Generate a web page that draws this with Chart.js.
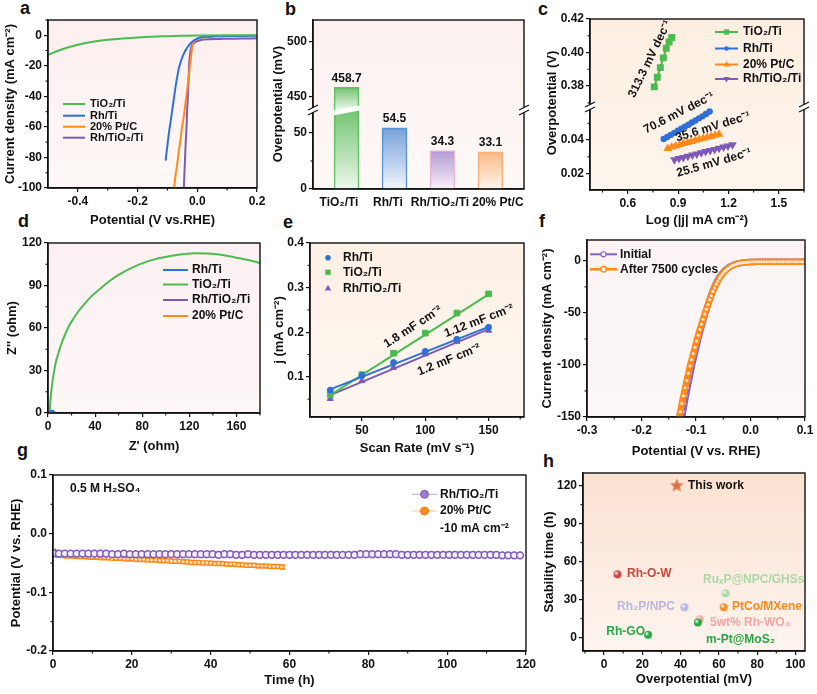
<!DOCTYPE html>
<html>
<head>
<meta charset="utf-8">
<title>HER performance</title>
<script src="https://cdn.jsdelivr.net/npm/chart.js@4.4.1/dist/chart.umd.min.js"></script>
<style>
  html, body { margin: 0; padding: 0; background: #fff; }
  #page { position: relative; width: 817px; height: 694px; overflow: hidden; background: #fff; }
  #page canvas { position: absolute; }
  .tag { position: absolute; font: bold 18px 'Liberation Sans', Arial, sans-serif; line-height: 18px; color: #111; }
</style>
</head>
<body>
<div id="page">
  <div class="tag" style="left:20px;top:-1px">a</div>
  <div class="tag" style="left:285px;top:0px">b</div>
  <div class="tag" style="left:538px;top:0px">c</div>
  <div class="tag" style="left:18px;top:212px">d</div>
  <div class="tag" style="left:283px;top:213px">e</div>
  <div class="tag" style="left:539px;top:212px">f</div>
  <div class="tag" style="left:17px;top:441px">g</div>
  <div class="tag" style="left:543px;top:452px">h</div>
</div>
<script>
// ---- a: LSV curves ----
var aTiO2V = [-0.5, -0.45, -0.4, -0.35, -0.3, -0.25, -0.2, -0.15, -0.1, -0.05, 0, 0.1, 0.2];
var aTiO2J = [-12.8, -9.0, -6.2, -4.3, -3.0, -2.1, -1.4, -0.9, -0.6, -0.35, -0.15, 0, 0];
var aRhV = [-0.106, -0.100, -0.095, -0.089, -0.084, -0.078, -0.073, -0.067, -0.061, -0.053, -0.045, -0.036, -0.028, -0.019, -0.011, 0.000, 0.011, 0.030, 0.060, 0.100, 0.150, 0.200];
var aRhJ = [-82, -72, -64, -56, -49, -41, -34, -27, -21, -16, -12, -8.8, -6.5, -4.6, -3.3, -2.2, -1.5, -1.0, -0.7, -0.5, -0.4, -0.3];
var aPtV = [-0.078, -0.073, -0.067, -0.062, -0.056, -0.051, -0.045, -0.040, -0.034, -0.028, -0.022, -0.017, -0.012, -0.006, 0.000, 0.011, 0.030, 0.060, 0.100, 0.150, 0.200];
var aPtJ = [-100, -92, -84, -76, -68, -60, -53, -45, -36, -26, -16, -7.6, -4.6, -3.3, -2.4, -1.5, -1.0, -0.7, -0.5, -0.4, -0.3];
var aRhTiO2V = [-0.045, -0.043, -0.041, -0.039, -0.036, -0.034, -0.031, -0.029, -0.027, -0.024, -0.020, -0.015, -0.010, -0.006, 0.000, 0.010, 0.022, 0.040, 0.078, 0.120, 0.160, 0.200];
var aRhTiO2J = [-100, -90, -81, -71, -60, -49, -38, -28, -18.5, -12, -7.6, -5.8, -5.0, -4.3, -3.8, -3.2, -2.8, -2.6, -2.4, -2.2, -2.1, -2.0];

// ---- b: overpotential at 10 mA cm-2 ----
var bNames = ['TiO₂/Ti', 'Rh/Ti', 'Rh/TiO₂/Ti', '20% Pt/C'];
var bEta = [458.7, 54.5, 34.3, 33.1];

// ---- c: Tafel ----
var cTiO2X = [0.758, 0.776, 0.794, 0.812, 0.829, 0.846, 0.862];
var cTiO2Y = [0.3795, 0.3852, 0.3910, 0.3968, 0.4025, 0.4063, 0.4090];
var cRhX = [0.814, 0.835, 0.856, 0.877, 0.898, 0.919, 0.940, 0.961, 0.982, 1.003, 1.024, 1.045, 1.066, 1.088];
var cRhY = [0.0406, 0.0418, 0.0431, 0.0443, 0.0456, 0.0468, 0.0480, 0.0492, 0.0505, 0.0517, 0.0530, 0.0542, 0.0556, 0.0571];
var cPtX = [0.838, 0.862, 0.885, 0.909, 0.932, 0.956, 0.979, 1.003, 1.026, 1.050, 1.073, 1.097, 1.120, 1.144];
var cPtY = [0.0350, 0.0358, 0.0365, 0.0372, 0.0379, 0.0386, 0.0392, 0.0399, 0.0405, 0.0411, 0.0417, 0.0423, 0.0429, 0.0435];
var cRhTiO2X = [0.878, 0.905, 0.931, 0.958, 0.985, 1.011, 1.038, 1.064, 1.091, 1.118, 1.144, 1.171, 1.197, 1.224];
var cRhTiO2Y = [0.0282, 0.0289, 0.0296, 0.0303, 0.0310, 0.0317, 0.0324, 0.0331, 0.0337, 0.0344, 0.0351, 0.0358, 0.0365, 0.0372];

// ---- d: Nyquist ----
var dTiO2X = [1.4, 1.8, 2.4, 3.2, 4.2, 5.5, 7.0, 8.8, 11.0, 14.0, 17.5, 21.5, 26, 31, 37, 44, 52, 61, 71, 81, 92, 103, 114, 125, 136, 147, 158, 168, 176, 180];
var dTiO2Y = [0, 6, 12, 18, 24.5, 31, 37, 42, 48, 54.5, 61, 66.5, 72, 77, 82.5, 87.5, 93, 98, 102.5, 106, 108.8, 110.6, 112, 112.8, 112.6, 111.7, 110, 108.3, 106.7, 105.8];
var dRhX = [1.2, 1.6, 2.2, 3.0, 3.8, 4.6, 5.3, 5.8, 6.0];
var dRhY = [0, 0.8, 1.3, 1.6, 1.6, 1.3, 0.8, 0.3, 0];
var dRhTiO2X = [1.0, 1.3, 1.8, 2.4, 2.9, 3.2];
var dRhTiO2Y = [0, 0.5, 0.8, 0.8, 0.4, 0];
var dPtX = [0.9, 1.2, 1.6, 2.1, 2.5, 2.7];
var dPtY = [0, 0.4, 0.6, 0.6, 0.3, 0];

// ---- e: double-layer capacitance ----
var eRate = [25, 50, 75, 100, 125, 150];
var eRhTi = [0.070, 0.103, 0.132, 0.157, 0.184, 0.211];
var eTiO2 = [0.060, 0.105, 0.153, 0.198, 0.243, 0.286];
var eRhTiO2 = [0.051, 0.091, 0.121, 0.151, 0.179, 0.204];
var eFitRate = [25, 150];
var eFitRhTi = [0.072, 0.212];
var eFitTiO2 = [0.059, 0.285];
var eFitRhTiO2 = [0.059, 0.207];

// ---- f: cycling stability ----
var fAfterV = [-0.132, -0.129, -0.126, -0.123, -0.120, -0.117, -0.114, -0.111, -0.108, -0.105,
  -0.102, -0.099, -0.096, -0.093, -0.090, -0.087, -0.084, -0.081, -0.078, -0.075,
  -0.072, -0.069, -0.066, -0.063, -0.060, -0.057, -0.054, -0.051, -0.048, -0.045,
  -0.042, -0.039, -0.036, -0.033, -0.030, -0.027, -0.024, -0.021, -0.018, -0.015,
  -0.012, -0.009, -0.006, -0.003, 0.000,
  0.005, 0.010, 0.015, 0.020, 0.025, 0.030, 0.035, 0.040, 0.045, 0.050,
  0.055, 0.060, 0.065, 0.070, 0.075, 0.080, 0.085, 0.090, 0.095, 0.100];
var fAfterJ = [-153, -145, -137, -129.5, -122, -115, -108, -101, -95, -89,
  -83, -77, -71.5, -66, -61, -56, -51, -46.5, -42, -37.5,
  -33.5, -29.5, -26, -22.5, -19.5, -16.8, -14.5, -12.5, -10.6, -9,
  -7.6, -6.4, -5.4, -4.6, -3.9, -3.3, -2.8, -2.4, -2.1, -1.8,
  -1.6, -1.4, -1.3, -1.2, -1.1,
  -1.0, -0.95, -0.9, -0.9, -0.85, -0.85, -0.8, -0.8, -0.8, -0.8,
  -0.8, -0.8, -0.8, -0.8, -0.8, -0.8, -0.8, -0.8, -0.8, -0.8];
var fInitV = [-0.1265, -0.1238, -0.1211, -0.1184, -0.1157, -0.1130, -0.1103, -0.1076, -0.1049, -0.1022,
  -0.0995, -0.0968, -0.0941, -0.0914, -0.0887, -0.0860, -0.0833, -0.0806, -0.0779, -0.0752,
  -0.0725, -0.0698, -0.0670, -0.0642, -0.0613, -0.0584, -0.0555, -0.0525, -0.0495, -0.0465,
  -0.0434, -0.0403, -0.0372, -0.0341, -0.0310, -0.0279, -0.0248, -0.0217, -0.0186, -0.0156,
  -0.0126, -0.0095, -0.0065, -0.0034, -0.0003,
  0.005, 0.010, 0.015, 0.020, 0.025, 0.030, 0.035, 0.040, 0.045, 0.050,
  0.055, 0.060, 0.065, 0.070, 0.075, 0.080, 0.085, 0.090, 0.095, 0.100];
var fInitJ = [-153, -145, -137, -129.5, -122, -115, -108, -101, -95, -89,
  -83, -77, -71.5, -66, -61, -56, -51, -46.5, -42, -37.5,
  -33.5, -29.5, -26, -22.5, -19.5, -16.8, -14.5, -12.5, -10.6, -9,
  -7.6, -6.4, -5.4, -4.6, -3.9, -3.3, -2.8, -2.4, -2.1, -1.8,
  -1.6, -1.4, -1.3, -1.2, -1.1,
  -1.05, -1.0, -0.95, -0.9, -0.9, -0.85, -0.85, -0.85, -0.85, -0.85,
  -0.85, -0.85, -0.85, -0.85, -0.85, -0.85, -0.85, -0.85, -0.85, -0.85];

// ---- g: chronopotentiometry at -10 mA cm-2 ----
var gRhT = [0, 1.5, 3, 4.5, 6, 7.5, 9, 10.5, 12, 13.5,
  15, 16.5, 18, 19.5, 21, 22.5, 24, 25.5, 27, 28.5,
  30, 31.5, 33, 34.5, 36, 37.5, 39, 40.5, 42, 43.5,
  45, 46.5, 48, 49.5, 51, 52.5, 54, 55.5, 57, 58.5,
  60, 61.5, 63, 64.5, 66, 67.5, 69, 70.5, 72, 73.5,
  75, 76.5, 78, 79.5, 81, 82.5, 84, 85.5, 87, 88.5,
  90, 91.5, 93, 94.5, 96, 97.5, 99, 100.5, 102, 103.5,
  105, 106.5, 108, 109.5, 111, 112.5, 114, 115.5, 117, 118.5];
var gRhE = [-0.033, -0.034, -0.034, -0.034, -0.034, -0.034, -0.034, -0.034, -0.034, -0.034,
  -0.035, -0.035, -0.034, -0.035, -0.035, -0.035, -0.035, -0.035, -0.035, -0.035,
  -0.035, -0.035, -0.035, -0.035, -0.035, -0.035, -0.035, -0.035, -0.036, -0.035,
  -0.035, -0.036, -0.036, -0.035, -0.036, -0.036, -0.036, -0.036, -0.036, -0.036,
  -0.036, -0.036, -0.036, -0.036, -0.036, -0.036, -0.036, -0.036, -0.036, -0.036,
  -0.036, -0.036, -0.035, -0.035, -0.035, -0.035, -0.035, -0.035, -0.035, -0.036,
  -0.036, -0.036, -0.036, -0.036, -0.036, -0.036, -0.036, -0.036, -0.036, -0.036,
  -0.036, -0.036, -0.036, -0.036, -0.036, -0.036, -0.037, -0.037, -0.037, -0.037];
var gPtT = [0.1, 1, 2, 3, 4, 5, 6, 7, 8, 9, 10, 11, 12, 13, 14, 15, 16, 17, 18, 19,
  20, 21, 22, 23, 24, 25, 26, 27, 28, 29, 30, 31, 32, 33, 34, 35, 36, 37, 38, 39,
  40, 41, 42, 43, 44, 45, 46, 47, 48, 49, 50, 51, 52, 53, 54, 55, 56, 57, 58, 59];
var gPtE = [-0.027, -0.037, -0.037, -0.038, -0.038, -0.038, -0.039, -0.039, -0.039, -0.040,
  -0.040, -0.040, -0.041, -0.041, -0.041, -0.042, -0.042, -0.042, -0.043, -0.043,
  -0.043, -0.044, -0.044, -0.044, -0.045, -0.045, -0.045, -0.046, -0.046, -0.046,
  -0.047, -0.047, -0.047, -0.048, -0.048, -0.049, -0.049, -0.049, -0.050, -0.050,
  -0.050, -0.051, -0.051, -0.051, -0.052, -0.052, -0.052, -0.053, -0.053, -0.054,
  -0.054, -0.054, -0.055, -0.055, -0.055, -0.056, -0.056, -0.056, -0.057, -0.057];

// ---- h: comparison ----
var hNames = ['This work', 'Rh-O-W', 'RuₓP@NPC/GHSs', 'Rh₂P/NPC', 'PtCo/MXene', '5wt% Rh-WO₃', 'm-Pt@MoS₂', 'Rh-GO'];
var hEta = [38, 7, 63.5, 42, 62.5, 50, 49, 23];
var hTime = [120, 50, 35, 24, 24, 14.5, 12, 2.3];
var hColors = ['#dc7649', '#c8453c', '#a9d8a2', '#b7b8dc', '#f58b22', '#f2a4a6', '#27a744', '#27a744'];

var FONT = "'Liberation Sans', Arial, Helvetica, sans-serif";
var GREEN = '#4cbb4f', BLUE = '#2f70d8', ORANGE = '#ff8a1a', PURPLE = '#7d5ab6';
var page = document.getElementById('page');

Chart.defaults.font.family = FONT;
Chart.defaults.font.weight = 'bold';
Chart.defaults.font.size = 12;
Chart.defaults.color = '#111';
Chart.defaults.animation = false;
Chart.defaults.responsive = false;
Chart.defaults.plugins.legend.display = false;
Chart.defaults.plugins.tooltip.enabled = false;

function pts(xs, ys) {
  return xs.map(function (x, i) { return { x: x, y: ys[i] }; });
}

function text(c, t, x, y, size, color, align, rot) {
  c.save();
  c.translate(x, y);
  if (rot) c.rotate(rot * Math.PI / 180);
  c.font = 'bold ' + size + 'px ' + FONT;
  c.fillStyle = color;
  c.textAlign = align;
  c.textBaseline = 'middle';
  c.fillText(t, 0, 0);
  c.restore();
}

function mark(c, st, x, y, r, fill, stroke, lw) {
  c.beginPath();
  if (st === 'rect') { var s = r * 0.75; c.rect(x - s, y - s, 2 * s, 2 * s); }
  else if (st === 'triangle') { c.moveTo(x, y - r); c.lineTo(x + r * 0.9, y + r * 0.6); c.lineTo(x - r * 0.9, y + r * 0.6); c.closePath(); }
  else if (st === 'tridown') { c.moveTo(x, y + r); c.lineTo(x + r * 0.9, y - r * 0.6); c.lineTo(x - r * 0.9, y - r * 0.6); c.closePath(); }
  else c.arc(x, y, r, 0, Math.PI * 2);
  if (fill) { c.fillStyle = fill; c.fill(); }
  if (stroke) { c.strokeStyle = stroke; c.lineWidth = lw || 1; c.stroke(); }
}

// plot frame, background, minor ticks, axis breaks, notes and legends
var decor = {
  id: 'decor',
  beforeDraw: function (chart, args, o) {
    if (!o.bg) return;
    var a = chart.chartArea, c = chart.ctx;
    var g = c.createLinearGradient(0, a.top, 0, a.bottom);
    g.addColorStop(0, o.bg[0]);
    g.addColorStop(1, o.bg[1]);
    c.save();
    c.fillStyle = g;
    c.fillRect(a.left, a.top, a.right - a.left, a.bottom - a.top);
    c.restore();
  },
  afterDatasetsDraw: function (chart, args, o) {
    var a = chart.chartArea, c = chart.ctx, ds = chart.data.datasets;
    c.save();
    c.strokeStyle = '#111';
    c.lineWidth = 1.4;
    c.strokeRect(a.left, a.top, a.right - a.left, a.bottom - a.top);

    c.lineWidth = 1.1;
    (o.minor || []).forEach(function (id) {
      var s = chart.scales[id], t = s.ticks;
      if (t.length < 2) return;
      var st = t[1].value - t[0].value;
      var vals = [t[0].value - st / 2];
      t.forEach(function (k) { vals.push(k.value + st / 2); });
      vals.forEach(function (v) {
        if (v < s.min || v > s.max) return;
        var p = s.getPixelForValue(v);
        c.beginPath();
        if (s.isHorizontal()) { c.moveTo(p, a.bottom); c.lineTo(p, a.bottom + 2.5); }
        else { c.moveTo(a.left, p); c.lineTo(a.left - 2.5, p); }
        c.stroke();
      });
    });

    if (o.brk) {
      var y = Math.max(chart.scales[o.brk[0]].top, chart.scales[o.brk[1]].top);
      c.fillStyle = '#fff';
      if (o.brkBars !== undefined) {
        chart.getDatasetMeta(o.brkBars).data.forEach(function (el, i) {
          if (ds[o.brkBars].data[i].y === null) return;
          c.beginPath();
          c.moveTo(el.x - el.width / 2 - 1, y + 0.5);
          c.lineTo(el.x + el.width / 2 + 1, y - 4.5);
          c.lineTo(el.x + el.width / 2 + 1, y + 0.5);
          c.lineTo(el.x - el.width / 2 - 1, y + 5.5);
          c.closePath();
          c.fill();
        });
      }
      c.fillRect(a.left - 6, y - 2.5, 12, 5);
      c.fillRect(a.right - 6, y - 2.5, 12, 5);
      c.lineWidth = 1.2;
      [a.left, a.right].forEach(function (x) {
        [-2.5, 2.5].forEach(function (d) {
          c.beginPath();
          c.moveTo(x - 5, y + d + 2.5);
          c.lineTo(x + 5, y + d - 2.5);
          c.stroke();
        });
      });
    }

    if (o.barLabels) {
      var bl = o.barLabels;
      bl.values.forEach(function (v, i) {
        var useHigh = ds[bl.high].data[i].y !== null;
        var el = chart.getDatasetMeta(useHigh ? bl.high : bl.low).data[i];
        text(c, v.toFixed(1), el.x, el.y - 9, 12, '#111', 'center', 0);
      });
    }

    if (o.xlabels) {
      var xl = o.xlabels, sx = chart.scales.x;
      xl.labels.forEach(function (t, i) {
        text(c, t, sx.getPixelForValue(i) + xl.dx[i], a.bottom + xl.gap, 12, '#111', 'center', 0);
      });
    }

    c.translate(-o.ox, -o.oy);
    (o.notes || []).forEach(function (n) {
      text(c, n.t, n.x, n.y, n.size || 12, n.color || '#111', n.align || 'center', n.rot || 0);
    });

    if (o.legend) {
      var L = o.legend;
      L.items.forEach(function (it, k) {
        var yy = L.ys[k], d = ds[it.ds];
        if (it.line) {
          c.strokeStyle = it.lc || d.borderColor;
          c.lineWidth = it.lw || 2;
          c.beginPath(); c.moveTo(L.x0, yy); c.lineTo(L.x1, yy); c.stroke();
        }
        if (it.mk) mark(c, it.mk, (L.x0 + L.x1) / 2, yy, it.r || 3, it.fill, it.stroke, it.mlw);
        text(c, d.label, L.tx, yy, L.size || 12, '#111', 'left', 0);
      });
    }
    c.restore();
  }
};
Chart.register(decor);

function ax(pos, min, max, step, dec, title) {
  return {
    type: 'linear', position: pos, min: min, max: max, offset: false,
    border: { display: true, color: '#111', width: 1.4 },
    grid: { drawOnChartArea: false, drawTicks: true, tickLength: 4, color: '#111', lineWidth: 1.2 },
    ticks: {
      stepSize: step, includeBounds: false, padding: 2, autoSkip: false, maxRotation: 0,
      font: { size: 12, weight: 'bold' }, color: '#111',
      callback: function (v) { return (Math.round(v * 1e6) / 1e6).toFixed(dec); }
    },
    title: { display: !!title, text: title || '', font: { size: 13, weight: 'bold' }, color: '#111', padding: 0 }
  };
}

function stacked(s, weight) {
  s.stack = 'y';
  s.stackWeight = weight;
  return s;
}

// box: plot area L,T,R,B in page pixels; tx = centre of y title, ty = centre of x title
function makeChart(box, cfg) {
  var yW = Math.round(box.L - box.tx + 7.8);
  var xH = Math.round(box.ty - box.B + 7.8);
  var cl = box.L - yW, ct = box.T - 14;
  var W = box.R + 12 - cl, H = box.B + xH - ct;
  var cv = document.createElement('canvas');
  cv.width = W; cv.height = H;
  cv.style.left = cl + 'px'; cv.style.top = ct + 'px';
  cv.style.width = W + 'px'; cv.style.height = H + 'px';
  page.appendChild(cv);
  var sc = cfg.options.scales;
  Object.keys(sc).forEach(function (k) {
    var horiz = sc[k].position === 'bottom';
    sc[k].afterFit = function (s) { if (horiz) s.height = xH; else s.width = yW; };
  });
  cfg.options.layout = { padding: { left: 0, top: 14, right: 12, bottom: 0 } };
  cfg.options.plugins.decor.ox = cl;
  cfg.options.plugins.decor.oy = ct;
  return new Chart(cv, cfg);
}

function curve(label, data, col, extra) {
  var d = { label: label, data: data, showLine: true, borderColor: col, borderWidth: 2, pointRadius: 0, cubicInterpolationMode: 'monotone' };
  for (var k in (extra || {})) d[k] = extra[k];
  return d;
}

function sphere(col, r) {
  var cv = document.createElement('canvas');
  cv.width = cv.height = 2 * r + 2;
  var c = cv.getContext('2d');
  var g = c.createRadialGradient(r + 1 - r * 0.4, r + 1 - r * 0.4, r * 0.1, r + 1, r + 1, r);
  g.addColorStop(0, '#ffffff');
  g.addColorStop(0.5, col);
  g.addColorStop(1, col);
  c.fillStyle = g;
  c.beginPath(); c.arc(r + 1, r + 1, r, 0, Math.PI * 2); c.fill();
  return cv;
}

function star(col, r) {
  var cv = document.createElement('canvas');
  cv.width = cv.height = 2 * r + 2;
  var c = cv.getContext('2d');
  c.beginPath();
  for (var i = 0; i < 10; i++) {
    var rr = i % 2 ? r * 0.45 : r, an = -Math.PI / 2 + i * Math.PI / 5;
    c.lineTo(r + 1 + rr * Math.cos(an), r + 1 + rr * Math.sin(an));
  }
  c.closePath();
  c.fillStyle = col; c.fill();
  return cv;
}

// ---------- a ----------
makeChart({ L: 48, T: 20, R: 257, B: 188, tx: 11, ty: 220 }, {
  type: 'scatter',
  data: { datasets: [
    curve('TiO₂/Ti', pts(aTiO2V, aTiO2J), GREEN),
    curve('Rh/Ti', pts(aRhV, aRhJ), BLUE),
    curve('20% Pt/C', pts(aPtV, aPtJ), ORANGE),
    curve('Rh/TiO₂/Ti', pts(aRhTiO2V, aRhTiO2J), PURPLE)
  ] },
  options: {
    scales: {
      x: ax('bottom', -0.5, 0.2, 0.2, 1, 'Potential (V vs.RHE)'),
      y: ax('left', -100, 10, 20, 0, 'Current density (mA cm⁻²)')
    },
    plugins: { decor: {
      bg: ['#fcefef', '#fdf8f6'], minor: ['x', 'y'],
      legend: { x0: 63, x1: 85, tx: 90, ys: [104, 115.7, 126.7, 137.7], size: 11,
        items: [{ ds: 0, line: true }, { ds: 1, line: true }, { ds: 2, line: true }, { ds: 3, line: true }] }
    } }
  }
});

// ---------- b ----------
var bLowMax = 70.5, bHighMin = 438;
var bPos = bNames.map(function (n, i) { return i; });
var bTop = ['rgba(92,188,92,0.85)', 'rgba(98,148,214,0.85)', 'rgba(158,128,204,0.75)', 'rgba(248,172,110,0.8)'];
var bBot = ['rgba(236,248,236,0.9)', 'rgba(240,245,252,0.9)', 'rgba(252,241,248,0.9)', 'rgba(254,245,237,0.9)'];
var bEdge = ['#63c163', '#5d95dc', '#eab6d4', '#f6b27c'];
function barFill(ctx) {
  var ch = ctx.chart, i = ctx.dataIndex;
  if (ctx.type !== 'data' || !ch.chartArea || !ctx.parsed || ctx.parsed.y === null) return bTop[i];
  var ys = ch.scales[ctx.dataset.yAxisID];
  var top = ys.getPixelForValue(ctx.parsed.y), bot = ys.getPixelForValue(ys.min);
  var g = ch.ctx.createLinearGradient(0, top, 0, bot);
  g.addColorStop(0, bTop[i]);
  g.addColorStop(1, bBot[i]);
  return g;
}
var bx = ax('bottom', -0.70, 3.70, 1, 0);
bx.ticks.display = false;
bx.grid.display = false;
makeChart({ L: 313, T: 20, R: 524, B: 189, tx: 278, ty: 205 }, {
  type: 'bar',
  data: { datasets: [
    { data: pts(bPos, bEta.map(function (v) { return Math.min(v, bLowMax); })), yAxisID: 'yLow',
      grouped: false, barThickness: 25, backgroundColor: barFill, borderColor: bEdge, borderWidth: 1.5 },
    { data: pts(bPos, bEta.map(function (v) { return v >= bHighMin ? v : null; })), yAxisID: 'yHigh',
      grouped: false, barThickness: 25, backgroundColor: barFill, borderColor: bEdge, borderWidth: 1.5 }
  ] },
  options: {
    scales: {
      x: bx,
      yLow: stacked(ax('left', 0, bLowMax, 50, 0), 79),
      yHigh: stacked(ax('left', bHighMin, 520, 50, 0), 90)
    },
    plugins: { decor: {
      bg: ['#fcf0f0', '#fdf9f6'], minor: ['yLow', 'yHigh'], brk: ['yLow', 'yHigh'], brkBars: 1,
      barLabels: { values: bEta, low: 0, high: 1 },
      xlabels: { labels: bNames, dx: [-7.6, -6.6, -2.5, 7.5], gap: 14 },
      notes: [{ t: 'Overpotential (mV)', x: 278, y: 104, rot: -90, size: 13 }]
    } }
  }
});

// ---------- c ----------
makeChart({ L: 590, T: 19, R: 804, B: 190, tx: 552, ty: 220 }, {
  type: 'scatter',
  data: { datasets: [
    { label: 'TiO₂/Ti', data: pts(cTiO2X, cTiO2Y), yAxisID: 'yHigh', showLine: true, borderColor: GREEN, borderWidth: 2,
      pointStyle: 'rect', pointRadius: 3.5, pointBackgroundColor: GREEN, pointBorderColor: GREEN },
    { label: 'Rh/Ti', data: pts(cRhX, cRhY), yAxisID: 'yLow', showLine: true, borderColor: BLUE, borderWidth: 2,
      pointStyle: 'circle', pointRadius: 2.2, pointBackgroundColor: BLUE, pointBorderColor: BLUE },
    { label: '20% Pt/C', data: pts(cPtX, cPtY), yAxisID: 'yLow', showLine: true, borderColor: ORANGE, borderWidth: 2,
      pointStyle: 'triangle', pointRadius: 3, pointBackgroundColor: ORANGE, pointBorderColor: ORANGE },
    { label: 'Rh/TiO₂/Ti', data: pts(cRhTiO2X, cRhTiO2Y), yAxisID: 'yLow', showLine: true, borderColor: PURPLE, borderWidth: 2,
      pointStyle: 'triangle', pointRotation: 180, pointRadius: 3, pointBackgroundColor: PURPLE, pointBorderColor: PURPLE }
  ] },
  options: {
    scales: {
      x: ax('bottom', 0.375, 1.65, 0.3, 1, 'Log (|j| mA cm⁻²)'),
      yLow: stacked(ax('left', 0.0101, 0.0598, 0.02, 2), 83),
      yHigh: stacked(ax('left', 0.3675, 0.42, 0.02, 2), 88)
    },
    plugins: { decor: {
      bg: ['#fdeee1', '#fdf5ed'], minor: ['x', 'yLow', 'yHigh'], brk: ['yLow', 'yHigh'],
      notes: [
        { t: 'Overpotential (V)', x: 552, y: 103, rot: -90, size: 13 },
        { t: '313.3 mV dec⁻¹', x: 650, y: 59, rot: -64 },
        { t: '70.6 mV dec⁻¹', x: 679, y: 113, rot: -27 },
        { t: '35.6 mV dec⁻¹', x: 713, y: 127, rot: -17 },
        { t: '25.5 mV dec⁻¹', x: 714, y: 163, rot: -16 }
      ],
      legend: { x0: 715, x1: 738, tx: 743, ys: [32, 48.5, 64.5, 79], size: 12,
        items: [
          { ds: 0, line: true, mk: 'rect', r: 3.5, fill: GREEN },
          { ds: 1, line: true, mk: 'circle', r: 2.3, fill: BLUE },
          { ds: 2, line: true, mk: 'triangle', r: 3.5, fill: ORANGE },
          { ds: 3, line: true, mk: 'tridown', r: 3.5, fill: PURPLE }
        ] }
    } }
  }
});

// ---------- d ----------
makeChart({ L: 48, T: 243, R: 260, B: 413, tx: 13, ty: 446 }, {
  type: 'scatter',
  data: { datasets: [
    curve('Rh/Ti', pts(dRhX, dRhY), BLUE),
    curve('TiO₂/Ti', pts(dTiO2X, dTiO2Y), GREEN),
    curve('Rh/TiO₂/Ti', pts(dRhTiO2X, dRhTiO2Y), PURPLE),
    curve('20% Pt/C', pts(dPtX, dPtY), ORANGE)
  ] },
  options: {
    scales: {
      x: ax('bottom', 0, 180, 40, 0, "Z' (ohm)"),
      y: ax('left', 0, 120, 30, 0, "Z'' (ohm)")
    },
    plugins: { decor: {
      bg: ['#fcf0f2', '#fdf7f6'], minor: ['x', 'y'],
      legend: { x0: 163, x1: 188, tx: 192, ys: [270, 284.5, 300, 316], size: 12,
        items: [{ ds: 0, line: true }, { ds: 1, line: true }, { ds: 2, line: true }, { ds: 3, line: true }] }
    } }
  }
});

// ---------- e ----------
function fit(data, col) {
  return { label: '', data: data, showLine: true, borderColor: col, borderWidth: 2, pointRadius: 0 };
}
makeChart({ L: 310, T: 243, R: 524, B: 417, tx: 280, ty: 448 }, {
  type: 'scatter',
  data: { datasets: [
    { label: 'Rh/Ti', data: pts(eRate, eRhTi), pointStyle: 'circle', pointRadius: 3, pointBackgroundColor: BLUE, pointBorderColor: BLUE },
    { label: 'TiO₂/Ti', data: pts(eRate, eTiO2), pointStyle: 'rect', pointRadius: 4, pointBackgroundColor: GREEN, pointBorderColor: GREEN },
    { label: 'Rh/TiO₂/Ti', data: pts(eRate, eRhTiO2), pointStyle: 'triangle', pointRadius: 3.5, pointBackgroundColor: PURPLE, pointBorderColor: PURPLE },
    fit(pts(eFitRate, eFitRhTi), BLUE),
    fit(pts(eFitRate, eFitTiO2), GREEN),
    fit(pts(eFitRate, eFitRhTiO2), PURPLE)
  ] },
  options: {
    scales: {
      x: ax('bottom', 9, 178, 50, 0, 'Scan Rate (mV s⁻¹)'),
      y: ax('left', 0.01, 0.4, 0.1, 1, 'j (mA cm⁻²)')
    },
    plugins: { decor: {
      bg: ['#fdf0e5', '#fdf7f1'], minor: ['x', 'y'],
      notes: [
        { t: '1.8 mF cm⁻²', x: 413, y: 327, rot: -33 },
        { t: '1.12 mF cm⁻²', x: 479, y: 321, rot: -21 },
        { t: '1.2 mF cm⁻²', x: 449, y: 360, rot: -22 }
      ],
      legend: { x0: 322, x1: 334, tx: 343, ys: [257.7, 272.3, 288.3], size: 12,
        items: [
          { ds: 0, mk: 'circle', r: 2.8, fill: BLUE },
          { ds: 1, mk: 'rect', r: 3.6, fill: GREEN },
          { ds: 2, mk: 'triangle', r: 3.6, fill: PURPLE }
        ] }
    } }
  }
});

// ---------- f ----------
function band(label, data, col, dot) {
  return { label: label, data: data, showLine: true, borderColor: col, borderWidth: 6.5, cubicInterpolationMode: 'monotone',
    pointStyle: 'circle', pointRadius: 1.5, pointBorderWidth: 0, pointBackgroundColor: dot, pointBorderColor: dot };
}
makeChart({ L: 587, T: 240, R: 805, B: 417, tx: 548, ty: 451 }, {
  type: 'scatter',
  data: { datasets: [
    band('After 7500 cycles', pts(fAfterV, fAfterJ), ORANGE, '#ffe9d4'),
    band('Initial', pts(fInitV, fInitJ), '#8462c2', '#efe8f8')
  ] },
  options: {
    scales: {
      x: ax('bottom', -0.3, 0.1, 0.1, 1, 'Potential (V vs. RHE)'),
      y: ax('left', -150, 20, 50, 0, 'Current density (mA cm⁻²)')
    },
    plugins: { decor: {
      bg: ['#fbf3f4', '#fcf8f7'], minor: ['x', 'y'],
      legend: { x0: 590, x1: 617, tx: 620, ys: [254.3, 269.3], size: 12,
        items: [
          { ds: 1, line: true, lw: 2, mk: 'circle', r: 2.6, fill: '#f4effa', stroke: '#8462c2', mlw: 1.1 },
          { ds: 0, line: true, lw: 2.5, mk: 'circle', r: 2.8, fill: '#fff4ea', stroke: ORANGE, mlw: 1.3 }
        ] }
    } }
  }
});

// ---------- g ----------
makeChart({ L: 53, T: 475, R: 526, B: 651, tx: 17, ty: 680 }, {
  type: 'scatter',
  data: { datasets: [
    { label: 'Rh/TiO₂/Ti', data: pts(gRhT, gRhE), borderColor: '#b9a3dc', pointStyle: 'circle', pointRadius: 3.4,
      pointBorderWidth: 1.5, pointBackgroundColor: '#f4eefb', pointBorderColor: '#7e5bb8' },
    { label: '20% Pt/C', data: pts(gPtT, gPtE), showLine: true, borderColor: ORANGE, borderWidth: 5.5,
      pointStyle: 'circle', pointRadius: 1.4, pointBorderWidth: 0, pointBackgroundColor: '#ffe6cc' }
  ] },
  options: {
    scales: {
      x: ax('bottom', 0, 120, 20, 0, 'Time (h)'),
      y: ax('left', -0.2, 0.1, 0.1, 1, 'Potential (V vs. RHE)')
    },
    plugins: { decor: {
      minor: ['x', 'y'],
      notes: [
        { t: '0.5 M H₂SO₄', x: 70, y: 489, align: 'left' },
        { t: '-10 mA cm⁻²', x: 440, y: 529, align: 'left' }
      ],
      legend: { x0: 412, x1: 437, tx: 440, ys: [494.3, 511], size: 12,
        items: [
          { ds: 0, line: true, lw: 1, lc: '#b9a3dc', mk: 'circle', r: 4, fill: '#9b7fcc', stroke: '#7e5bb8', mlw: 1 },
          { ds: 1, line: true, lw: 1, lc: '#ffc58c', mk: 'circle', r: 4, fill: ORANGE, stroke: '#f07d10', mlw: 1 }
        ] }
    } }
  }
});

// ---------- h ----------
var hStyles = hColors.map(function (col, i) { return i === 0 ? star(col, 7) : sphere(col, 4); });
makeChart({ L: 583, T: 473, R: 805, B: 651, tx: 550, ty: 679 }, {
  type: 'scatter',
  data: { datasets: [
    { label: 'HER catalysts', data: pts(hEta, hTime), pointStyle: hStyles, pointRadius: 5 }
  ] },
  options: {
    scales: {
      x: ax('bottom', -11, 105, 20, 0, 'Overpotential (mV)'),
      y: ax('left', -10.5, 130, 30, 0, 'Stability time (h)')
    },
    plugins: { decor: {
      bg: ['#fce2d2', '#fdf4ef'], minor: ['x', 'y'],
      notes: [
        { t: hNames[0], x: 688, y: 486, align: 'left', color: '#111' },
        { t: hNames[1], x: 627, y: 574, align: 'left', color: hColors[1] },
        { t: hNames[2], x: 703, y: 580, align: 'left', color: hColors[2] },
        { t: hNames[3], x: 675, y: 607, align: 'right', color: hColors[3] },
        { t: hNames[4], x: 732, y: 607, align: 'left', color: hColors[4] },
        { t: hNames[5], x: 710, y: 623, align: 'left', color: hColors[5] },
        { t: hNames[6], x: 706, y: 640, align: 'left', color: hColors[6] },
        { t: hNames[7], x: 645, y: 632, align: 'right', color: hColors[7] }
      ]
    } }
  }
});
</script>
</body>
</html>
